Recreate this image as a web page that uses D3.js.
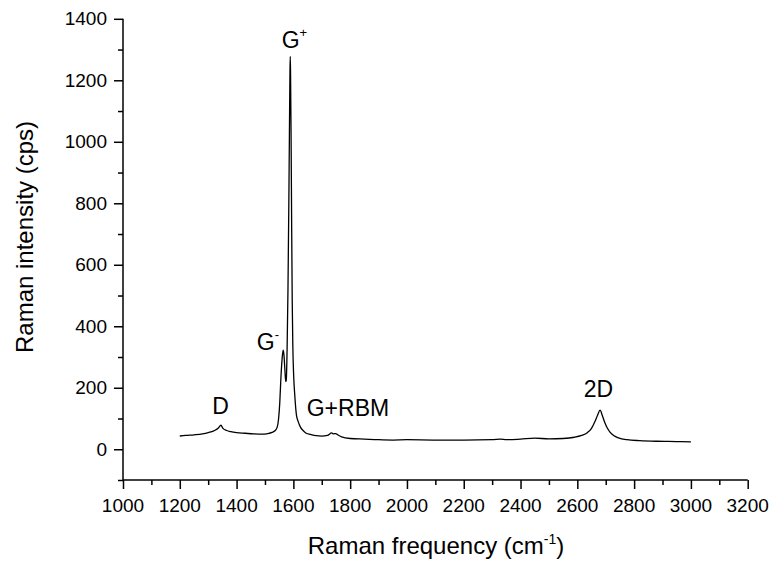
<!DOCTYPE html>
<html>
<head>
<meta charset="utf-8">
<script src="https://cdn.jsdelivr.net/npm/d3@7"></script>
<style>
  body { margin: 0; background: #fff; }
  text { font-family: "Liberation Sans", Arial, sans-serif; fill: #000; }
  .axis path, .axis line { stroke: #000; stroke-width: 1.5px; }
</style>
</head>
<body>
<script>
// spectrum (Raman shift in cm-1, counts per second)
var freq = [1200, 1220, 1250, 1280, 1300, 1320, 1335, 1345, 1352, 1365, 1380, 1400, 1430, 1460, 1490, 1510,
  1525, 1535, 1543, 1548, 1552, 1556, 1560, 1564, 1567, 1570, 1573, 1575, 1578, 1581, 1584, 1586, 1588, 1589,
  1590, 1592, 1594, 1596, 1598, 1601, 1605, 1611, 1617, 1625, 1635, 1645, 1660, 1680, 1700, 1720, 1735, 1741,
  1749, 1756, 1770, 1800, 1850, 1900, 1950, 2000, 2100, 2200, 2300, 2330, 2350, 2400, 2450, 2500, 2550, 2590,
  2615, 2635, 2650, 2662, 2672, 2680, 2688, 2697, 2705, 2715, 2728, 2745, 2775, 2820, 2880, 2950, 3000];
var intensity = [43, 45, 47, 50, 54, 60, 68, 78, 68, 61, 57, 54, 52, 50, 49, 51,
  55, 60, 72, 100, 150, 230, 290, 322, 305, 260, 220, 225, 330, 520, 800, 1020, 1230, 1278,
  1230, 1010, 720, 480, 340, 240, 175, 110, 90, 72, 60, 52, 48, 44, 43, 45, 53, 50,
  51, 47, 40, 35, 33, 31, 30, 31, 30, 30, 31, 33, 31, 33, 36, 34, 35, 39,
  45, 54, 68, 90, 112, 127, 110, 86, 70, 56, 45, 37, 31, 28, 26, 25, 24];

var xTicks = [1000, 1200, 1400, 1600, 1800, 2000, 2200, 2400, 2600, 2800, 3000, 3200];
var yTicks = [0, 200, 400, 600, 800, 1000, 1200, 1400];

// peak labels: name, superscript, anchor frequency, anchor intensity
var peakNames = ["D", "G", "G", "G+RBM", "2D"];
var peakSups = ["", "-", "+", "", ""];
var peakFreq = [1344, 1471, 1559, 1647, 2674];
var peakVal = [115, 323, 1304, 108, 171];

var width = 774, height = 565;
var x = d3.scaleLinear().domain([1000, 3200]).range([123, 747.7]);
var y = d3.scaleLinear().domain([-100, 1400]).range([480, 18.8]);

var svg = d3.select("body").append("svg")
  .attr("width", width)
  .attr("height", height);

var data = freq.map(function (f, i) { return [f, intensity[i]]; });

var line = d3.line()
  .curve(d3.curveMonotoneX)
  .x(function (d) { return x(d[0]); })
  .y(function (d) { return y(d[1]); });

svg.append("path")
  .datum(data)
  .attr("fill", "none")
  .attr("stroke", "#000")
  .attr("stroke-width", 1.3)
  .attr("stroke-linejoin", "round")
  .attr("d", line);

// axes with major and minor ticks
var xAxis = svg.append("g").attr("class", "axis")
  .attr("transform", "translate(0," + y(-100) + ")")
  .call(d3.axisBottom(x).tickValues(d3.range(1000, 3201, 100)).tickSize(5).tickFormat(""));
xAxis.selectAll(".tick line")
  .attr("y2", function (d) { return d % 200 === 0 ? 9 : 5; });
xAxis.select(".domain").attr("d", "M" + x(1000) + ",0H" + x(3200));
xAxis.selectAll(".lbl").data(xTicks).enter().append("text")
  .attr("x", function (d) { return x(d); })
  .attr("y", 32)
  .attr("text-anchor", "middle")
  .style("font-size", "19px")
  .text(function (d) { return d; });

var yAxis = svg.append("g").attr("class", "axis")
  .attr("transform", "translate(" + x(1000) + ",0)")
  .call(d3.axisLeft(y).tickValues(d3.range(-100, 1401, 100)).tickSize(5).tickFormat(""));
yAxis.selectAll(".tick line")
  .attr("x2", function (d) { return d % 200 === 0 ? -9 : -5; });
yAxis.select(".domain").attr("d", "M0," + y(-100) + "V" + y(1400));
yAxis.selectAll(".lbl").data(yTicks).enter().append("text")
  .attr("x", -16)
  .attr("y", function (d) { return y(d); })
  .attr("dy", "0.35em")
  .attr("text-anchor", "end")
  .style("font-size", "19px")
  .text(function (d) { return d; });

// axis titles
var xt = svg.append("text")
  .attr("x", 436)
  .attr("y", 554)
  .attr("text-anchor", "middle")
  .style("font-size", "24px")
  .text("Raman frequency (cm");
xt.append("tspan").attr("dy", -10).style("font-size", "14px").text("-1");
xt.append("tspan").attr("dy", 10).text(")");

svg.append("text")
  .attr("transform", "translate(33,237)rotate(-90)")
  .attr("text-anchor", "middle")
  .style("font-size", "24px")
  .text("Raman intensity (cps)");

// peak annotations
peakNames.forEach(function (n, i) {
  var t = svg.append("text")
    .attr("x", x(peakFreq[i]))
    .attr("y", y(peakVal[i]))
    .attr("text-anchor", i === 1 || i === 2 || i === 3 ? "start" : "middle")
    .style("font-size", "23px")
    .text(n);
  if (peakSups[i]) {
    t.append("tspan").attr("dy", -11).style("font-size", "13px").text(peakSups[i]);
  }
});
</script>
</body>
</html>
